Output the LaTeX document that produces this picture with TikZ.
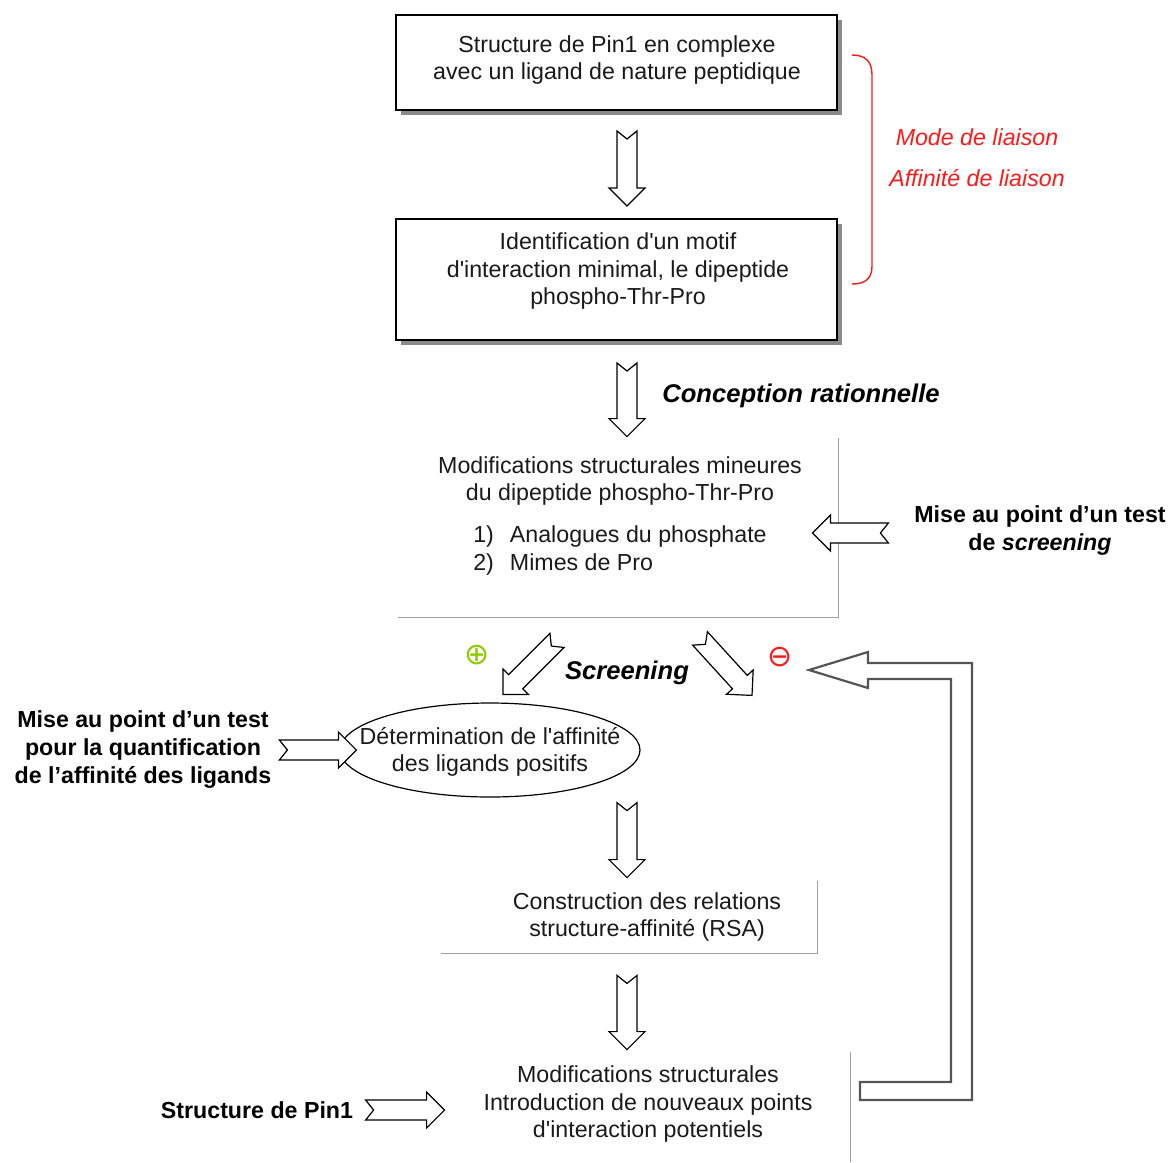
\documentclass[tikz,border=0pt]{standalone}
\usepackage{fontspec}
\setmainfont{Liberation Sans}
\newfontfamily\symfont{DejaVu Sans}
\usetikzlibrary{calc,shapes.geometric,shadows}
\definecolor{PNInk}{HTML}{1A1A1A}
\definecolor{PNRed}{HTML}{FF1A1A}
\definecolor{PNGreen}{HTML}{8CCB00}
\definecolor{PNLine}{HTML}{A0A0A0}
\definecolor{PNLoop}{HTML}{555555}
\definecolor{PNShade}{HTML}{8A8A8A}
\tikzset{
  frame/.style={draw=black,line width=1pt,fill=white,inner sep=0pt,
    drop shadow={shadow xshift=2.5pt,shadow yshift=-2.5pt,fill=PNShade,opacity=1}},
  openbox/.style={inner sep=0pt},
  openline/.style={draw=PNLine,line width=0.8pt},
  oval/.style={ellipse,draw=black,line width=0.6pt,inner sep=0pt},
  txt/.style={text=PNInk,font=\fontsize{11.6}{13.6}\selectfont,align=center,inner sep=0pt},
  tag/.style={text=black,font=\fontsize{11.6}{14}\selectfont\bfseries,align=center,inner sep=0pt},
  heading/.style={text=black,font=\fontsize{12.8}{15}\selectfont\bfseries\itshape,inner sep=0pt},
  redtxt/.style={text=PNRed,font=\fontsize{11.6}{13.6}\selectfont\itshape,inner sep=0pt},
  plusmark/.style={text=PNGreen,font=\symfont\fontsize{15}{15}\selectfont,inner sep=0pt},
  minusmark/.style={plusmark,text=PNRed},
  blockline/.style={draw=black,line width=0.6pt,line join=miter,fill=white},
  loopline/.style={draw=PNLoop,line width=1.1pt,line join=miter},
  brace/.style={draw=PNRed,line width=0.7pt},
}
% notched block arrow from #1 (tail) to #2 (tip)
\newcommand{\blockarrow}[2]{%
  \draw[blockline]
    ($(#1)!5pt!90:(#2)$) --
    ($(#2)!9pt!(#1)!5pt!270:(#1)$) --
    ($(#2)!9pt!(#1)!9pt!270:(#1)$) --
    (#2) --
    ($(#2)!9pt!(#1)!9pt!90:(#1)$) --
    ($(#2)!9pt!(#1)!5pt!90:(#1)$) --
    ($(#1)!5pt!270:(#2)$) --
    ($(#1)!4pt!(#2)$) -- cycle;%
}

\begin{document}
\begin{tikzpicture}[x=0.5pt,y=-0.5pt]
  \useasboundingbox (0,0) rectangle (1171,1162);

  \node[frame,minimum width=220.5pt,minimum height=47.5pt] (complexe) at (616.5,62.5) {};
  \node[txt] (complexetxt) at (617,60) {Structure de Pin1 en complexe\\avec un ligand de nature peptidique};
  \node[frame,minimum width=220.5pt,minimum height=60.5pt] (motif) at (616.5,279.5) {};
  \node[txt] (motiftxt) at (618,271) {Identification d\textquotesingle un motif\\d\textquotesingle interaction minimal, le dipeptide\\phospho-Thr-Pro};

  \draw[brace] (852,55) .. controls (866,55) and (872,62) .. (872,75) -- (872,266)
    .. controls (872,278) and (866,284) .. (852,284);
  \node[redtxt] (mode) at (977,137) {Mode de liaison};
  \node[redtxt] (affinite) at (977,178) {Affinité de liaison};

  \node[heading] (conception) at (801,396) {Conception rationnelle};

  \node[openbox,minimum width=220pt,minimum height=89.5pt] (mineur) at (618,527.5) {};
  \draw[openline] (mineur.north east) -- (mineur.south east) -- (mineur.south west);
  \node[txt] (mineurtxt) at (620,518) {Modifications structurales mineures\\du dipeptide phospho-Thr-Pro\\[7.5pt]
    \renewcommand{\arraystretch}{1.05}%
    \begin{tabular}{@{}l@{\hspace{8pt}}l@{}}1) & Analogues du phosphate\\2) & Mimes de Pro\end{tabular}};
  \node[tag] (test1) at (1040,530) {Mise au point d’un test\\de \textit{screening}};

  \node[heading] (screening) at (627,673) {Screening};
  \node[plusmark] (plus) at (477,655) {⊕};
  \node[minusmark] (minus) at (780,657) {⊖};

  \node[oval,minimum width=150pt,minimum height=47pt] (affin) at (490,750) {};
  \node[txt] (affintxt) at (490,752) {Détermination de l\textquotesingle affinité\\des ligands positifs};
  \node[tag] (quantif) at (143,750) {Mise au point d’un test\\pour la quantification\\de l’affinité des ligands};

  \node[openbox,minimum width=188pt,minimum height=36pt] (rsa) at (629,917) {};
  \draw[openline] (rsa.north east) -- (rsa.south east) -- (rsa.south west);
  \node[txt] (rsatxt) at (647,917) {Construction des relations\\structure-affinité (RSA)};

  \node[openbox,minimum width=202pt,minimum height=55pt] (nouveaux) at (648,1107) {};
  \draw[openline] (nouveaux.north east) -- (nouveaux.south east);
  \node[txt] (nouveauxtxt) at (648,1104) {Modifications structurales\\Introduction de nouveaux points\\d\textquotesingle interaction potentiels};
  \node[tag] (pin1) at (257,1110) {Structure de Pin1};

  \coordinate (a1s) at ($(complexe.south)+(10.5,20)$);
  \coordinate (a1e) at ($(motif.north)+(10.5,-12)$);
  \coordinate (a2s) at ($(motif.south)+(10.5,22)$);
  \coordinate (a2e) at ($(mineur.north)+(9,-1)$);
  \coordinate (a3s) at ($(mineur.east)+(50,5.5)$);
  \coordinate (a3e) at ($(mineur.east)+(-26,5.5)$);
  \coordinate (a4s) at ($(mineur.south)+(-61,23)$);
  \coordinate (a4e) at ($(affin.north)+(13,-8)$);
  \coordinate (a5s) at ($(mineur.south)+(82,21)$);
  \coordinate (a5e) at ($(mineur.south)+(134,78)$);
  \coordinate (a6s) at ($(affin.west)+(-60,0)$);
  \coordinate (a6e) at ($(affin.west)+(17,0)$);
  \coordinate (a7s) at ($(affin.south)+(137,5)$);
  \coordinate (a7e) at ($(rsa.north)+(-2,-3)$);
  \coordinate (a8s) at ($(rsa.south)+(-2,22)$);
  \coordinate (a8e) at ($(nouveaux.north)+(-21,-2)$);
  \coordinate (a9s) at ($(nouveaux.west)+(-80,3)$);
  \coordinate (a9e) at ($(nouveaux.west)+(-1,3)$);
  \foreach \s/\e in {a1s/a1e,a2s/a2e,a3s/a3e,a4s/a4e,a5s/a5e,a6s/a6e,a7s/a7e,a8s/a8e,a9s/a9e}{
    \blockarrow{\s}{\e}
  }

  % feedback loop
  \draw[loopline] (860,1082) -- (951,1082) -- (951,679) -- (868,679) -- (868,688) -- (809,670)
    -- (868,652) -- (868,663) -- (972,663) -- (972,1100) -- (860,1100) -- cycle;
\end{tikzpicture}
\end{document}
